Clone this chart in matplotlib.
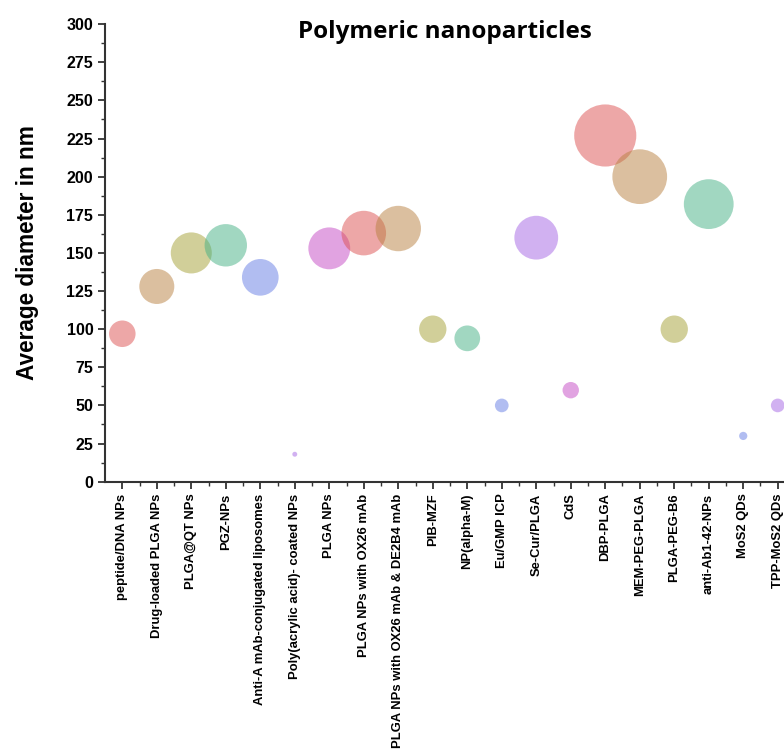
import matplotlib
matplotlib.use("Agg")
import matplotlib.pyplot as plt
from matplotlib.ticker import MultipleLocator
import numpy as np

names = ["peptide/DNA NPs", "Drug-loaded PLGA NPs", "PLGA@QT NPs", "PGZ-NPs",
         "Anti-A mAb-conjugated liposomes", "Poly(acrylic acid)- coated NPs",
         "PLGA NPs", "PLGA NPs with OX26 mAb", "PLGA NPs with OX26 mAb & DE2B4 mAb",
         "PIB-MZF", "NP(alpha-M)", "Eu/GMP ICP", "Se-Cur/PLGA", "CdS", "DBP-PLGA",
         "MEM-PEG-PLGA", "PLGA-PEG-B6", "anti-Ab1-42-NPs", "MoS2 QDs", "TPP-MoS2 QDs"]
diameter = [97, 128, 150, 155, 134, 18, 153, 163, 166, 100, 94, 50, 160, 60,
            227, 200, 100, 182, 30, 50]

palette = ["#dd5151", "#b98141", "#a5a135", "#45b185", "#657de5", "#a565e5", "#c549c5"]

x = np.arange(len(names))
d = np.array(diameter, dtype=float)
colors = [palette[i % len(palette)] for i in range(len(names))]

fig = plt.figure(figsize=(7.84, 7.55), dpi=100)
ax = fig.add_axes([0.134, 0.362, 0.880, 0.606])

# bubble diameter proportional to particle diameter
ax.scatter(x, d, s=(0.197 * d) ** 2, c=colors, alpha=0.5, edgecolors="none")

ax.set_xlim(-0.5, len(names) - 0.5)
ax.set_ylim(0, 300)
ax.yaxis.set_major_locator(MultipleLocator(25))
ax.yaxis.set_minor_locator(MultipleLocator(12.5))
ax.set_xticks(x)
ax.set_xticks(x + 0.5, minor=True)
ax.set_xticklabels(names, rotation=90, fontsize=9.4, fontweight="bold",
                   family="Liberation Sans")
for lab in ax.get_yticklabels():
    lab.set_fontweight("bold")
    lab.set_family("Liberation Sans")
    lab.set_fontsize(11.5)

ax.spines["top"].set_visible(False)
ax.spines["right"].set_visible(False)
for s in ["left", "bottom"]:
    ax.spines[s].set_linewidth(1.5)
    ax.spines[s].set_color("#333333")
ax.tick_params(which="major", direction="out", length=5, width=1.3, color="#333333")
ax.tick_params(which="minor", direction="out", length=3, width=1.0, color="#333333")

ax.set_ylabel("Average diameter in nm", fontsize=16.3, fontweight="bold",
              family="Liberation Sans", labelpad=20)

fig.text(0.568, 0.958, "Polymeric nanoparticles", ha="center", va="center",
         fontsize=17.5, fontweight="bold", family="Open Sans")

fig.savefig("out.png", dpi=100)
